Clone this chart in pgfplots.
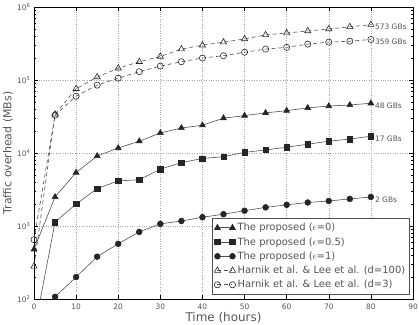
\documentclass[border=0pt]{standalone}
\usepackage{pgfplots}
\pgfplotsset{compat=1.18}
\usepackage{fontspec}
\setmainfont{DejaVu Sans}
\definecolor{txt}{HTML}{555555}
\definecolor{dk}{HTML}{262626}
\definecolor{dl}{HTML}{505050}
\pgfplotstableread{
x y
0 480
5 2500
10 5400
15 9100
20 11700
25 14500
30 18800
35 22000
40 24000
45 30000
50 32500
55 35500
60 38000
65 41500
70 44000
75 45500
80 48000
}\epszero
\pgfplotstableread{
x y
0 35
5 1130
10 2000
15 3250
20 4150
25 4300
30 6000
35 7400
40 8400
45 8900
50 10200
55 11000
60 12000
65 13200
70 14500
75 15500
80 17000
}\epshalf
\pgfplotstableread{
x y
5 107
10 200
15 380
20 570
25 830
30 1070
35 1170
40 1320
45 1450
50 1620
55 1800
60 1950
65 2100
70 2200
75 2350
80 2500
}\epsone
\pgfplotstableread{
x y
0 280
5 34000
10 76000
15 110000
20 145000
25 178000
30 210000
35 265000
40 300000
45 330000
50 365000
55 415000
60 440000
65 470000
70 500000
75 535000
80 573000
}\dhundred
\pgfplotstableread{
x y
0 650
5 33000
10 60000
15 85000
20 106000
25 130000
30 155000
35 178000
40 200000
45 215000
50 240000
55 265000
60 280000
65 310000
70 330000
75 340000
80 359000
}\dthree
\begin{document}
\begin{tikzpicture}
\begin{axis}[
  scale only axis, width=379bp, height=292bp,
  ymode=log, xmin=0, xmax=90, ymin=1e2, ymax=1e6,
  xtick={0,10,...,90},
  ytick={1e2,1e3,1e4,1e5,1e6},
  yticklabels={10\textsuperscript{2},10\textsuperscript{3},10\textsuperscript{4},10\textsuperscript{5},10\textsuperscript{6}},
  xticklabel style={/pgf/number format/assume math mode=true, font=\fontsize{7.5}{8}\selectfont, text=txt, yshift=-1bp},
  yticklabel style={font=\fontsize{7.5}{8}\selectfont, text=txt},
  tick align=inside, tick pos=both,
  major tick length=4bp, minor tick length=2bp,
  every tick/.style={black, line width=0.5pt},
  axis line style={black, line width=0.6pt},
  grid=major,
  major grid style={gray!70, dotted, line width=0.5pt},
  xlabel={Time (hours)}, ylabel={Traffic overhead (MBs)},
  every axis x label/.style={at={(axis description cs:0.5,0)}, yshift=-18.5bp, anchor=center, font=\fontsize{12}{13}\selectfont, text=txt},
  every axis y label/.style={at={(axis description cs:0,0.5)}, xshift=-26bp, rotate=90, anchor=center, font=\fontsize{11}{12}\selectfont, text=txt},
  legend image code/.code={\draw[#1] plot coordinates {(0bp,0bp) (15bp,0bp)};},
  legend style={at={(0.992,0.017)}, anchor=south east, draw=dl, line width=0.5pt, fill=white,
    font=\fontsize{10}{11}\selectfont, text=txt, row sep=1.2bp, inner sep=2.5bp},
  legend cell align=left,
]
\addplot[dl, line width=0.6pt, mark=triangle*, mark size=3.4pt, mark options={fill=dk, draw=dk, solid}] table {\epszero};
\addlegendentry{The proposed ($\epsilon$=0)}
\addplot[dl, line width=0.6pt, mark=square*, mark size=2.7pt, mark options={fill=dk, draw=dk, solid}] table {\epshalf};
\addlegendentry{The proposed ($\epsilon$=0.5)}
\addplot[dl, line width=0.6pt, mark=*, mark size=2.9pt, mark options={fill=dk, draw=dk, solid}] table {\epsone};
\addlegendentry{The proposed ($\epsilon$=1)}
\addplot[dl, line width=0.6pt, dash pattern=on 4bp off 3bp, mark=triangle, mark size=3.6pt, mark options={fill=white, draw=dk, solid}] table {\dhundred};
\addlegendentry{Harnik et al. \& Lee et al. (d=100)}
\addplot[dl, line width=0.6pt, dash pattern=on 4bp off 3bp, mark=o, mark size=3.1pt, mark options={fill=white, draw=dk, solid}] table {\dthree};
\addlegendentry{Harnik et al. \& Lee et al. (d=3)}
\node[anchor=west, text=txt, font=\fontsize{7.5}{8}\selectfont, inner sep=1bp, xshift=3bp, yshift=-2.5bp] at (axis cs:80,573000) {573 GBs};
\node[anchor=west, text=txt, font=\fontsize{7.5}{8}\selectfont, inner sep=1bp, xshift=3bp, yshift=-2.5bp] at (axis cs:80,359000) {359 GBs};
\node[anchor=west, text=txt, font=\fontsize{7.5}{8}\selectfont, inner sep=1bp, xshift=3bp, yshift=-2.5bp] at (axis cs:80,48000) {48 GBs};
\node[anchor=west, text=txt, font=\fontsize{7.5}{8}\selectfont, inner sep=1bp, xshift=3bp, yshift=-2.5bp] at (axis cs:80,17000) {17 GBs};
\node[anchor=west, text=txt, font=\fontsize{7.5}{8}\selectfont, inner sep=1bp, xshift=3bp, yshift=-2.5bp] at (axis cs:80,2500) {2 GBs};
\end{axis}
\pgfresetboundingbox
\path[use as bounding box] ([shift={(-34bp,-25bp)}]current axis.south west) rectangle ([shift={(6bp,7bp)}]current axis.north east);
\end{tikzpicture}
\end{document}
